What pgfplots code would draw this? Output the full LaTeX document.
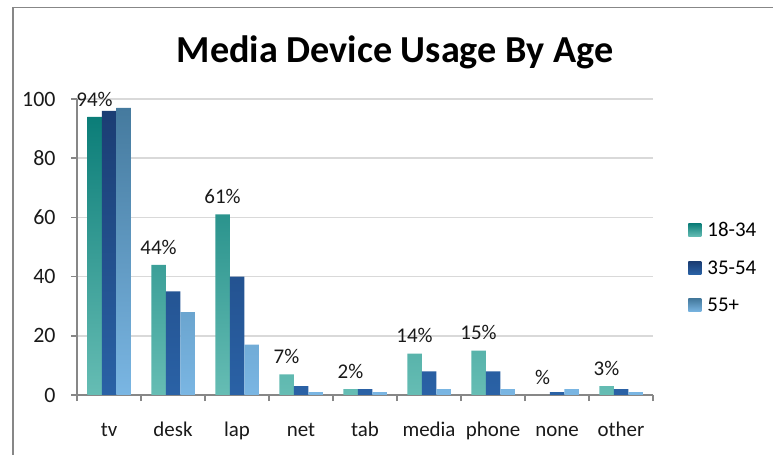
\documentclass[border=0pt]{standalone}
\usepackage{pgfplots}
\pgfplotsset{compat=1.18}
\usepackage{fontspec}
\setmainfont{Carlito}
\definecolor{gridc}{HTML}{D9D9D9}
\definecolor{axisc}{HTML}{878787}
\definecolor{aTop}{HTML}{0B7D78}
\definecolor{aBot}{HTML}{66BDB4}
\definecolor{bTop}{HTML}{1B3D73}
\definecolor{bBot}{HTML}{2A62A6}
\definecolor{cTop}{HTML}{457A9E}
\definecolor{cBot}{HTML}{7AB6E3}
\begin{document}
\begin{tikzpicture}
\useasboundingbox (0bp,0bp) rectangle (773bp,455bp);
\draw[axisc, line width=1.5bp] (13bp,-5bp) -- (13bp,447.5bp) -- (780bp,447.5bp);
\node[font=\bfseries\fontsize{38.3}{42}\selectfont] at (395bp,403bp) {Media Device Usage By Age};
\begin{axis}[
  at={(77bp,60bp)}, anchor=south west,
  scale only axis, width=576bp, height=296bp,
  xmin=-0.5, xmax=8.5, ymin=0, ymax=100,
  ytick={0,20,...,100},
  ymajorgrids, grid style={gridc, line width=1.5bp},
  axis x line*=bottom, axis y line*=left,
  axis line style={axisc, line width=1.5bp, -},
  tick style={axisc, line width=1.5bp},
  tick align=outside, major tick length=6bp,
  xtick={-0.5,0.5,...,8.5}, xticklabels={},
  extra x ticks={0,1,...,8},
  extra x tick labels={tv,desk,lap,net,tab,media,phone,none,other},
  extra x tick style={major tick length=0pt, tick style={draw=none},
     xticklabel style={anchor=north, text height=15bp, text depth=4bp, yshift=-22.5bp}},
  ticklabel style={font=\fontsize{21}{24}\selectfont, text=black!90},
  yticklabel style={font=\fontsize{22}{25}\selectfont, xshift=-12bp},
  /pgf/number format/assume math mode=true,
  ybar=0pt, bar width=14.5bp,
  legend style={at={(1.056,0.598)}, anchor=north west, draw=none,
     font=\fontsize{21}{24}\selectfont, row sep=18.5bp, fill=none,
     nodes={inner xsep=6bp}},
  legend cell align=left,
  legend image code/.code={\path[#1,draw=none] (0bp,-6.5bp) rectangle (13bp,6.5bp);},
  every node near coord/.append style={font=\fontsize{21}{24}\selectfont, text=black!90, yshift=7bp},
]
\addplot[draw=none, top color=aTop, bottom color=aBot, shading=axis,
  nodes near coords, point meta=explicit symbolic] coordinates {
  (0,94) [94\%] (1,44) [44\%] (2,61) [61\%] (3,7) [7\%] (4,2) [2\%]
  (5,14) [14\%] (6,15) [15\%] (7,0) [\%] (8,3) [3\%]};
\addplot[draw=none, top color=bTop, bottom color=bBot, shading=axis] coordinates {
  (0,96) (1,35) (2,40) (3,3) (4,2) (5,8) (6,8) (7,1) (8,2)};
\addplot[draw=none, top color=cTop, bottom color=cBot, shading=axis] coordinates {
  (0,97) (1,28) (2,17) (3,1) (4,1) (5,2) (6,2) (7,2) (8,1)};
\legend{18-34,35-54,55+}
\end{axis}
\end{tikzpicture}
\end{document}
